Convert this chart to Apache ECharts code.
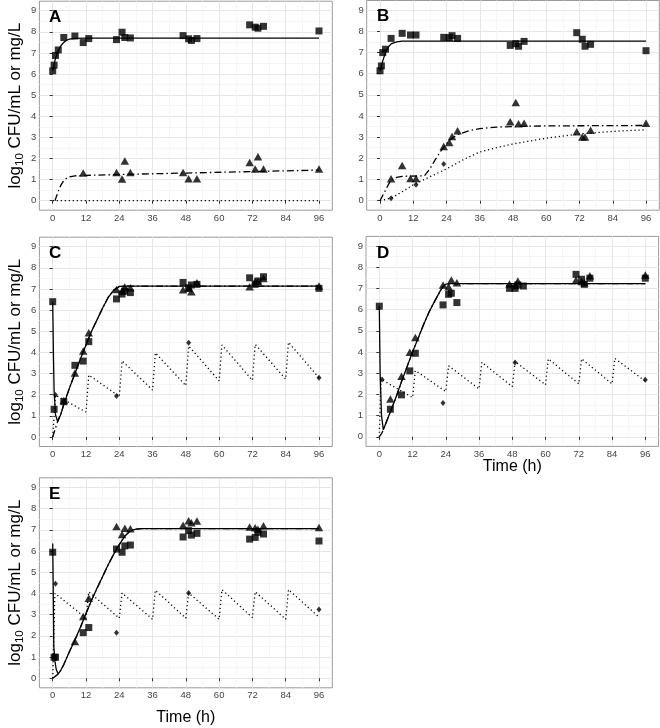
<!DOCTYPE html>
<html><head><meta charset="utf-8">
<script src="https://cdn.jsdelivr.net/npm/echarts@6/dist/echarts.min.js"></script>
<style>html,body{margin:0;padding:0;background:#fff}#c{width:660px;height:728px}</style>
</head><body><div id="c"></div><script>
// ---------- tick labels ----------
const xTicks = [0,12,24,36,48,60,72,84,96];
const xMinor = [6,18,30,42,54,66,78,90];
const yTicks = [0,1,2,3,4,5,6,7,8,9];
const yMinor = [0.5,1.5,2.5,3.5,4.5,5.5,6.5,7.5,8.5];
const panelLabels = ['A','B','C','D','E'];
const xTitle = 'Time (h)';
const yTitle = '{a|log}{s|10}{a| CFU/mL or mg/L}';

// ---------- Panel A ----------
const A_squares = [[0,6.15],[0.5,6.42],[1,6.88],[2,7.14],[4,7.73],[8,7.8],[11,7.49],[13,7.68],[23,7.63],[25,7.98],[26,7.73],[28,7.71],[47,7.82],[49,7.67],[50,7.59],[52,7.68],[71,8.33],[73,8.22],[74,8.17],[76,8.26],[96,8.04]];
const A_triangles = [[11,1.31],[23,1.34],[25,1.03],[26,1.88],[28,1.34],[47,1.34],[49,1.04],[52,1.04],[71,1.81],[73,1.5],[74,2.08],[76,1.5],[96,1.5]];
const A_diamonds = [];
const A_fitSquares = [[0,6.15],[1,6.75],[2,7.1],[3,7.35],[4,7.5],[5,7.6],[6,7.65],[8,7.69],[12,7.7],[96,7.7]];
const A_fitTriangles = [[0.8,0],[2,0.45],[3,0.75],[4,0.95],[5,1.07],[6,1.13],[8,1.18],[12,1.2],[24,1.24],[48,1.31],[72,1.38],[96,1.45]];
const A_conc = [[0,0],[96,0]];

// ---------- Panel B ----------
const B_squares = [[0,6.13],[0.5,6.36],[1,6.99],[2,7.15],[4,7.66],[8,7.9],[11,7.82],[13,7.82],[23,7.71],[25,7.7],[26,7.79],[28,7.66],[47,7.33],[49,7.41],[50,7.29],[52,7.52],[71,7.93],[73,7.62],[74,7.29],[76,7.38],[96,7.08]];
const B_triangles = [[4,1.04],[8,1.66],[11,1.05],[13,1.05],[23,2.56],[25,2.75],[26,3.03],[28,3.3],[47,3.72],[49,4.63],[50,3.63],[52,3.66],[71,3.25],[73,3.0],[74,3.0],[76,3.33],[96,3.66]];
const B_diamonds = [[4,0.11],[13,0.75],[23,1.73]];
const B_fitSquares = [[0,6.1],[1,6.6],[2,7.0],[3,7.25],[4,7.4],[6,7.5],[8,7.53],[96,7.53]];
const B_fitTriangles = [[0,0],[2,0.5],[4,1.0],[6,1.1],[8,1.15],[16,1.17],[18,1.5],[20,1.95],[22,2.35],[24,2.7],[26,2.95],[28,3.12],[32,3.3],[36,3.4],[42,3.47],[48,3.5],[60,3.53],[96,3.55]];
const B_conc = [[0,0],[4,0.12],[8,0.42],[12,0.75],[16,1.0],[20,1.25],[24,1.5],[30,1.93],[36,2.3],[42,2.5],[48,2.68],[60,2.95],[72,3.15],[84,3.27],[96,3.35]];

// ---------- Panel C ----------
const C_squares = [[0,6.4],[0.5,1.31],[4,1.67],[8,3.39],[11,3.59],[13,4.51],[23,6.53],[25,6.76],[26,6.9],[28,6.83],[47,7.31],[49,7.06],[50,7.19],[52,7.22],[71,7.53],[73,7.22],[74,7.38],[76,7.58],[96,7.03]];
const C_triangles = [[4,1.72],[8,3.03],[11,4.07],[13,4.93],[23,6.98],[25,6.9],[26,7.1],[28,7.06],[47,6.97],[49,7.03],[50,6.87],[52,7.3],[71,7.11],[73,7.35],[74,7.35],[76,7.5],[96,7.14]];
const C_diamonds = [[1,1.99],[23,1.94],[49,4.46],[96,2.8]];
const C_fitSquares = [[0,6.4],[0.25,4.0],[0.5,2.2],[1,1.05],[1.8,0.72],[3,1.1],[4,1.55],[6,2.3],[8,3.0],[10,3.7],[12,4.35],[14,5.0],[16,5.55],[18,6.1],[20,6.6],[22,6.95],[24,7.12],[26,7.14],[96,7.14]];
const C_fitTriangles = [[0,0],[1,0.42],[2,0.82],[3,1.12],[4,1.55],[6,2.3],[8,3.0],[10,3.7],[12,4.35],[14,5.0],[16,5.55],[18,6.1],[20,6.6],[22,6.95],[24,7.12],[26,7.14],[96,7.14]];
const C_conc = [[0,0],[1,1.98],[12,1.18],[13,2.93],[24,1.92],[25,3.6],[36,2.22],[37,3.98],[48,2.43],[49,4.3],[60,2.66],[61,4.35],[72,2.68],[73,4.38],[84,2.74],[85,4.48],[96,2.8]];

// ---------- Panel D ----------
const D_squares = [[0,6.16],[4,1.3],[8,1.98],[11,3.11],[13,3.94],[23,6.22],[25,6.72],[26,6.77],[28,6.33],[47,7.0],[49,7.0],[50,7.16],[52,7.11],[71,7.66],[73,7.43],[74,7.19],[76,7.48],[96,7.48]];
const D_triangles = [[4,1.79],[8,2.86],[11,3.99],[13,4.68],[23,7.16],[25,7.08],[26,7.4],[28,7.27],[47,7.21],[49,7.13],[50,7.35],[71,7.4],[73,7.32],[74,7.27],[76,7.59],[96,7.63]];
const D_diamonds = [[1,2.7],[23,1.6],[49,3.5],[96,2.69]];
const D_fitSquares = [[0,6.16],[0.3,3.0],[0.8,1.0],[1.45,0.33],[3,0.85],[4.5,1.35],[6,1.85],[8,2.6],[10,3.3],[12,4.0],[14,4.65],[16,5.3],[18,5.9],[20,6.4],[22,6.88],[23,7.08],[24,7.2],[26,7.22],[96,7.22]];
const D_fitTriangles = [[0,0],[0.8,0.15],[1.45,0.33],[3,0.85],[4.5,1.35],[6,1.85],[8,2.6],[10,3.3],[12,4.0],[14,4.65],[16,5.3],[18,5.9],[20,6.4],[22,6.88],[23,7.08],[24,7.2],[26,7.22],[96,7.22]];
const D_conc = [[0,0],[0.6,2.72],[12,1.85],[13,3.12],[24,2.14],[25,3.35],[36,2.26],[37,3.52],[48,2.37],[49,3.55],[60,2.45],[61,3.68],[72,2.5],[73,3.68],[84,2.5],[85,3.7],[96,2.62]];

// ---------- Panel E ----------
const E_squares = [[0,5.94],[0.5,0.99],[1,0.99],[11,2.15],[13,2.39],[23,6.09],[25,5.94],[26,6.24],[28,6.28],[47,6.66],[49,6.96],[50,6.75],[52,6.83],[71,6.56],[73,6.64],[74,6.88],[76,6.8],[96,6.47]];
const E_triangles = [[8,1.73],[11,2.91],[13,3.77],[23,7.15],[25,6.78],[26,7.07],[28,7.05],[47,7.21],[49,7.43],[50,7.33],[52,7.41],[71,7.13],[73,7.1],[74,7.02],[76,7.19],[96,7.11]];
const E_diamonds = [[1,4.45],[23,2.15],[49,4.02],[96,3.24]];
const E_fitSquares = [[0,6.35],[0.2,4.0],[0.4,1.5],[0.8,0.8],[1.3,0.4],[2,0.2],[3,0.4],[4,0.65],[6,1.25],[8,1.8],[10,2.4],[12,3.05],[14,3.68],[16,4.25],[18,4.8],[20,5.35],[22,5.85],[24,6.3],[26,6.7],[28,6.95],[30,7.03],[32,7.05],[96,7.05]];
const E_fitTriangles = [[0,0],[1,0.1],[2,0.2],[3,0.4],[4,0.65],[6,1.25],[8,1.8],[10,2.4],[12,3.05],[14,3.68],[16,4.25],[18,4.8],[20,5.35],[22,5.85],[24,6.3],[26,6.7],[28,6.95],[30,7.03],[32,7.05],[96,7.05]];
const E_conc = [[0,0],[0.8,4.0],[12,2.83],[13,4.08],[24,2.83],[25,4.02],[36,2.78],[37,4.15],[48,2.83],[49,4.02],[60,2.78],[61,4.18],[72,2.86],[73,4.08],[84,2.78],[85,4.18],[96,2.88]];

// ---------- layout ----------
const FONT = '"Liberation Sans", Arial, Helvetica, sans-serif';
const panels = [
  {sq:A_squares, tri:A_triangles, dia:A_diamonds, fitSq:A_fitSquares, fitTri:A_fitTriangles, conc:A_conc,
   grid:{left:39.4, top:1.2, width:292.9, height:209}, yName:true, xName:false, lab:{left:49, top:9}},
  {sq:B_squares, tri:B_triangles, dia:B_diamonds, fitSq:B_fitSquares, fitTri:B_fitTriangles, conc:B_conc,
   grid:{left:366.7, top:0.5, width:292.6, height:209.7}, yName:false, xName:false, lab:{left:377, top:8}},
  {sq:C_squares, tri:C_triangles, dia:C_diamonds, fitSq:C_fitSquares, fitTri:C_fitTriangles, conc:C_conc,
   grid:{left:39.4, top:237.2, width:292.9, height:209.3}, yName:true, xName:false, lab:{left:49, top:245}},
  {sq:D_squares, tri:D_triangles, dia:D_diamonds, fitSq:D_fitSquares, fitTri:D_fitTriangles, conc:D_conc,
   grid:{left:366, top:236.4, width:292.6, height:210}, yName:false, xName:true, xGap:12, lab:{left:377, top:245}},
  {sq:E_squares, tri:E_triangles, dia:E_diamonds, fitSq:E_fitSquares, fitTri:E_fitTriangles, conc:E_conc,
   grid:{left:39.4, top:477.8, width:292.9, height:210}, yName:true, xName:true, xGap:22, lab:{left:49, top:486}}
];

const grids = [], xAxes = [], yAxes = [], series = [], titles = [];
panels.forEach((p, i) => {
  grids.push(Object.assign({show:true, borderColor:'#9a9a9a', borderWidth:1, backgroundColor:'#fff', containLabel:false}, p.grid));
  titles.push({text: panelLabels[i], left: p.lab.left, top: p.lab.top, padding: 0,
    textStyle:{fontSize:17, fontWeight:'bold', color:'#000', fontFamily:FONT}});
  xAxes.push({
    gridIndex:i, type:'value', min:-4.8, max:100.8,
    axisLine:{show:false},
    axisTick:{show:true, length:3, customValues:xTicks, lineStyle:{color:'#333', width:1}},
    axisLabel:{customValues:xTicks, color:'#444', fontSize:9.5, margin:3, fontFamily:FONT},
    splitLine:{show:true, lineStyle:{color:'#e6e6e6', width:1}},
    name: p.xName ? xTitle : '', nameLocation:'middle', nameGap: p.xGap || 20, nameMoveOverlap:false,
    nameTextStyle:{fontSize:16, color:'#000', fontFamily:FONT}
  });
  xAxes.push({
    gridIndex:i, type:'value', min:-4.8, max:100.8,
    axisLine:{show:false},
    axisTick:{show:false, customValues:xMinor},
    axisLabel:{show:false, customValues:xMinor},
    splitLine:{show:true, lineStyle:{color:'#f3f3f3', width:0.8}}
  });
  yAxes.push({
    gridIndex:i, type:'value', min:-0.45, max:9.45,
    axisLine:{show:false},
    axisTick:{show:true, length:3, customValues:yTicks, lineStyle:{color:'#333', width:1}},
    axisLabel:{customValues:yTicks, color:'#444', fontSize:9.5, margin:3, fontFamily:FONT},
    splitLine:{show:true, lineStyle:{color:'#e6e6e6', width:1}},
    name: p.yName ? yTitle : '', nameLocation:'middle', nameRotate:90, nameGap:14, nameMoveOverlap:false,
    nameTextStyle:{color:'#000', fontFamily:FONT, rich:{
      a:{fontSize:17, lineHeight:21, color:'#000', fontFamily:FONT},
      s:{fontSize:11.5, lineHeight:11, verticalAlign:'bottom', color:'#000', fontFamily:FONT}
    }}
  });
  yAxes.push({
    gridIndex:i, type:'value', min:-0.45, max:9.45,
    axisLine:{show:false},
    axisTick:{show:false, customValues:yMinor},
    axisLabel:{show:false, customValues:yMinor},
    splitLine:{show:true, lineStyle:{color:'#f3f3f3', width:0.8}}
  });
  const xi = 2*i, yi = 2*i;
  const line = (data, type) => ({type:'line', xAxisIndex:xi, yAxisIndex:yi, data, symbol:'none', silent:true,
    lineStyle:{color:'#000', width:1.3, type}, z:3});
  series.push(line(p.conc, [1.2, 2.8]));
  series.push(line(p.fitTri, [7, 3, 1.5, 3]));
  series.push(line(p.fitSq, 'solid'));
  series.push({type:'scatter', xAxisIndex:xi, yAxisIndex:yi, data:p.sq, symbol:'rect', symbolSize:7, itemStyle:{color:'#000'}, z:4});
  series.push({type:'scatter', xAxisIndex:xi, yAxisIndex:yi, data:p.tri, symbol:'triangle', symbolSize:[8.5,7.5], itemStyle:{color:'#000'}, z:4});
  series.push({type:'scatter', xAxisIndex:xi, yAxisIndex:yi, data:p.dia, symbol:'diamond', symbolSize:[5,6], itemStyle:{color:'#000'}, z:4});
});

const chart = echarts.init(document.getElementById('c'), null, {renderer:'canvas'});
chart.setOption({
  animation:false,
  backgroundColor:'#fff',
  title: titles,
  grid: grids,
  xAxis: xAxes,
  yAxis: yAxes,
  series
});
</script></body></html>
